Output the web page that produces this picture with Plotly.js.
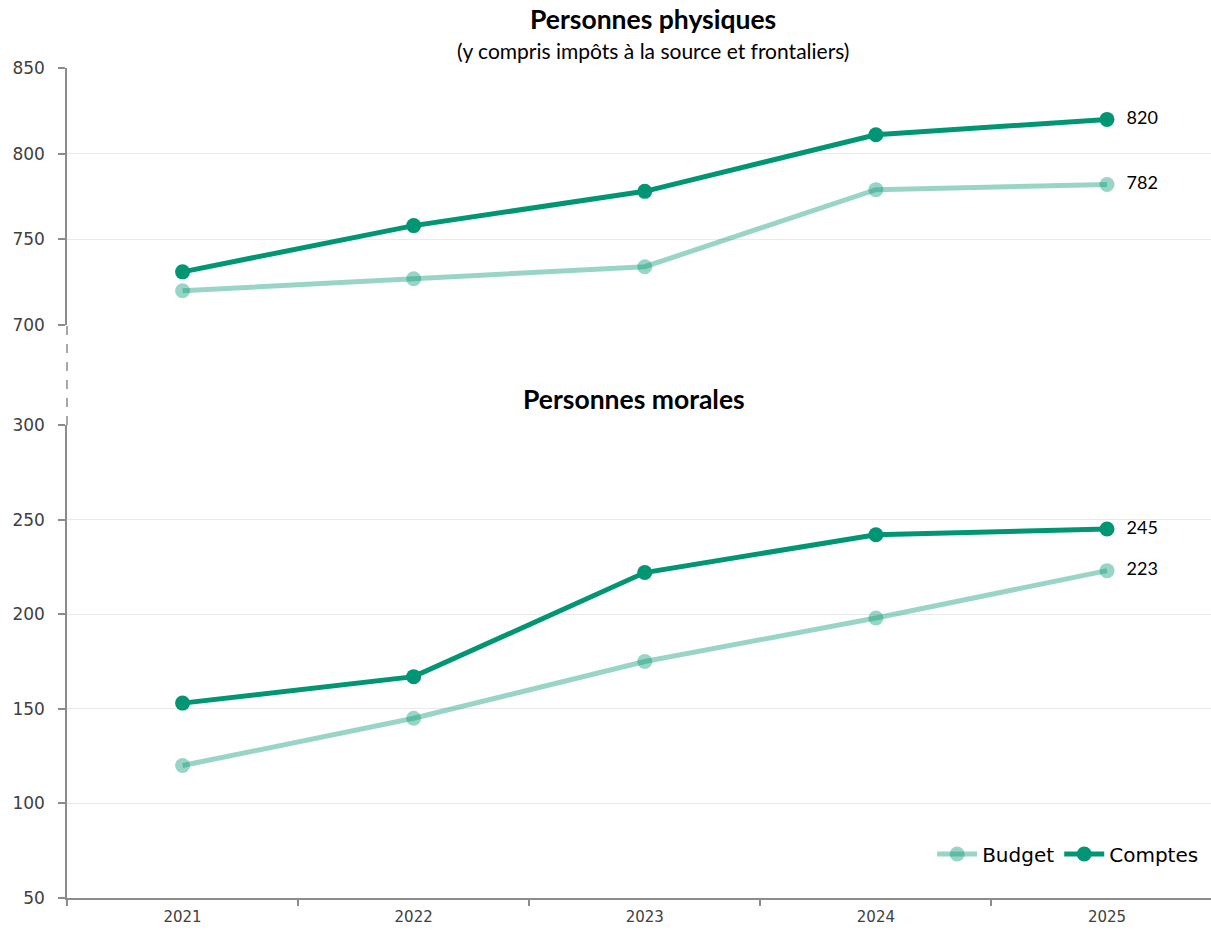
<!DOCTYPE html>
<html>
<head>
<meta charset="utf-8">
<script src="https://cdn.plot.ly/plotly-3.0.1.min.js"></script>
<style>html,body{margin:0;padding:0;background:#fff}#chart{width:1211px;height:930px}</style>
</head>
<body>
<div id="chart"></div>
<script>
const years = ['2021', '2022', '2023', '2024', '2025'];
const physBudget = [720, 727, 734, 779, 782];
const physComptes = [731, 758, 778, 811, 820];
const moraBudget = [120, 145, 175, 198, 223];
const moraComptes = [153, 167, 222, 242, 245];
const physTicks = [700, 750, 800, 850];
const moraTicks = [50, 100, 150, 200, 250, 300];

const cDark = 'rgb(0,150,115)';
const cLight = 'rgba(0,150,115,0.4)';
const lastLabel = arr => arr.map((v, i) => i === arr.length - 1 ? '\u00a0\u00a0' + String(v) : '');
const labelFont = {family: 'Lato, "Open Sans", sans-serif', size: 18, color: '#000'};

function trace(y, name, color, xa, ya, show) {
  return {
    x: years, y: y, name: name, type: 'scatter', mode: 'lines+markers+text',
    xaxis: xa, yaxis: ya, showlegend: show, legendgroup: name,
    line: {color: color, width: 5},
    marker: {color: color, size: 15},
    text: lastLabel(y), textposition: 'middle right', textfont: labelFont,
    cliponaxis: false, hoverinfo: 'x+y'
  };
}

const data = [
  trace(moraBudget, 'Budget', cLight, 'x', 'y', true),
  trace(moraComptes, 'Comptes', cDark, 'x', 'y', true),
  trace(physBudget, 'Budget', cLight, 'x2', 'y2', false),
  trace(physComptes, 'Comptes', cDark, 'x2', 'y2', false)
];

const tickFont = {family: '"DejaVu Sans", sans-serif', size: 17, color: '#404040'};
const yCommon = {
  showgrid: true, gridcolor: '#ebebeb', gridwidth: 1,
  showline: true, linecolor: '#8c8c8c', linewidth: 1.5,
  ticks: 'outside', ticklen: 7, tickcolor: '#8c8c8c', tickwidth: 1.5,
  ticklabelstandoff: 10,
  tickfont: tickFont, zeroline: false, fixedrange: true
};

const layout = {
  width: 1211, height: 930,
  margin: {l: 67, r: 0, t: 68, b: 32},
  paper_bgcolor: '#fff', plot_bgcolor: '#fff',
  xaxis: {
    type: 'category', range: [-0.5, 4.45], domain: [0, 1], anchor: 'y',
    showline: true, linecolor: '#8c8c8c', linewidth: 1.5,
    ticks: 'outside', tickson: 'boundaries', ticklen: 6, tickcolor: '#8c8c8c', tickwidth: 1.5,
    ticklabelstandoff: 4,
    tickfont: {family: '"DejaVu Sans", sans-serif', size: 15, color: '#404040'},
    showgrid: false, fixedrange: true
  },
  xaxis2: {
    type: 'category', range: [-0.5, 4.45], domain: [0, 1], anchor: 'y2', matches: 'x',
    visible: false, showgrid: false
  },
  yaxis: Object.assign({}, yCommon, {domain: [0, 0.5699], range: [50, 300], tickvals: moraTicks, anchor: 'x'}),
  yaxis2: Object.assign({}, yCommon, {domain: [0.6904, 1], range: [700, 850], tickvals: physTicks, anchor: 'x2'}),
  legend: {
    orientation: 'h', x: 0.994, xanchor: 'right', y: 0.053, yanchor: 'middle',
    font: {family: '"DejaVu Sans", sans-serif', size: 20, color: '#000'},
    bgcolor: 'rgba(0,0,0,0)', itemwidth: 40, tracegroupgap: 0
  },
  shapes: [{
    type: 'line', xref: 'paper', yref: 'paper', x0: 0, x1: 0, y0: 0.5699, y1: 0.6904,
    line: {color: '#8c8c8c', width: 1.5, dash: 'dash'}
  }],
  annotations: [
    {text: '<b>Personnes physiques</b>', xref: 'paper', yref: 'paper', x: 0.512, y: 1, yshift: 49,
     xanchor: 'center', yanchor: 'middle', showarrow: false,
     font: {family: 'Lato, "Open Sans", sans-serif', size: 26.5, color: '#000'}},
    {text: '(y compris impôts à la source et frontaliers)', xref: 'paper', yref: 'paper', x: 0.512, y: 1, yshift: 18,
     xanchor: 'center', yanchor: 'middle', showarrow: false,
     font: {family: 'Lato, "Open Sans", sans-serif', size: 21, color: '#000'}},
    {text: '<b>Personnes morales</b>', xref: 'paper', yref: 'paper', x: 0.496, y: 0.5699, yshift: 26,
     xanchor: 'center', yanchor: 'middle', showarrow: false,
     font: {family: 'Lato, "Open Sans", sans-serif', size: 26.5, color: '#000'}}
  ],
  hovermode: 'closest'
};

Plotly.newPlot('chart', data, layout, {displayModeBar: false});
</script>
</body>
</html>
